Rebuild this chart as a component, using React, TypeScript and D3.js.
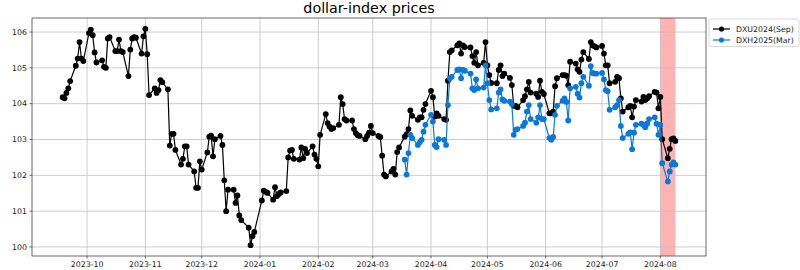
import React from 'react';
import * as d3 from 'd3';

// ---------------- data ----------------
const chartTitle = 'dollar-index prices';
const seriesNames = ['DXU2024(Sep)', 'DXH2025(Mar)'];
const firstDay = '2023-09-18';
const lastDay = '2024-08-09';
const holidays = ['2023-12-25', '2024-01-01'];
const secondSeriesFirstDay = '2024-03-18';
const spanStart = '2024-08-01';
const spanEnd = '2024-08-09';
const yTickValues = [100, 101, 102, 103, 104, 105, 106];
const xTickMonths = [
  '2023-10-01', '2023-11-01', '2023-12-01', '2024-01-01', '2024-02-01', '2024-03-01',
  '2024-04-01', '2024-05-01', '2024-06-01', '2024-07-01', '2024-08-01',
];

// DXU2024 (Sep) - one value per trading day, week by week
const dxu2024 = [
  104.18, 104.15, 104.30, 104.43, 104.63,
  105.06, 105.26, 105.72, 105.26, 105.19,
  105.97, 106.07, 105.91, 105.43, 105.15,
  105.21, 105.03, 105.00, 105.82, 105.86,
  105.47, 105.47, 105.79, 105.47, 105.44,
  104.77, 105.51, 105.82, 105.86, 105.84,
  105.40, 105.88, 106.09, 105.38, 104.24,
  104.43, 104.30, 104.38, 104.66, 104.60,
  104.40, 102.83, 103.16, 103.16, 102.71,
  102.30, 102.46, 102.81, 102.81, 102.30,
  102.11, 101.65, 101.65, 102.39, 102.16,
  102.64, 103.08, 103.11, 102.53, 103.01,
  103.10, 102.85, 101.86, 101.00, 101.60,
  101.60, 101.23, 101.44, 100.88, 100.75,
  100.54, 100.05, 100.30, 100.42,
  101.30, 101.57, 101.54, 101.51,
  101.32, 101.67, 101.42, 101.48, 101.52,
  101.56, 102.50, 102.69, 102.71, 102.46,
  102.44, 102.78, 102.48, 102.74, 102.62,
  102.81, 102.58, 102.46, 102.25, 103.13,
  103.71, 103.46, 103.36, 103.29, 103.32,
  103.41, 104.18, 103.99, 103.57, 103.53,
  103.53, 103.29, 103.18, 103.12, 103.10,
  103.01, 103.10, 103.19, 103.38, 103.18,
  103.10, 103.07, 102.55, 102.02, 101.97,
  102.11, 102.18, 102.02, 102.65, 102.78,
  103.08, 103.15, 103.29, 103.81, 103.66,
  103.55, 103.62, 103.62, 103.83, 103.99,
  104.36, 104.18, 103.64, 103.73, 103.66,
  103.57, 103.55, 104.64, 105.44, 105.49,
  105.63, 105.68, 105.40, 105.63, 105.58,
  105.57, 105.33, 105.14, 105.44, 105.07,
  105.14, 105.72, 105.07, 104.80, 104.58,
  104.57, 104.94, 105.07, 104.77, 104.84,
  104.72, 104.52, 103.94, 103.94, 103.90,
  104.10, 104.21, 104.40, 104.61, 104.31,
  104.28, 104.19, 104.64, 104.33, 104.27,
  103.73, 103.73, 103.78, 104.49, 104.71,
  104.80, 104.80, 104.78, 104.52, 105.17,
  105.12, 104.96, 104.89, 105.23, 105.44,
  105.25, 105.72, 105.63, 105.60, 105.57,
  105.61, 105.40, 105.07, 105.07, 104.57,
  104.61, 104.75, 104.71, 104.15, 103.78,
  103.90, 103.94, 103.62, 103.92, 104.10,
  104.06, 104.19, 104.10, 104.15, 104.21,
  104.33, 104.31, 103.87, 104.19, 103.01,
  102.48, 102.74, 103.01, 103.03, 102.96,
];

// DXH2025 (Mar) - from 2024-03-18
const dxh2025 = [
  102.44, 102.02, 102.62, 103.13, 103.04,
  102.85, 102.92, 102.99, 103.22, 103.41,
  103.69, 103.50, 102.85, 102.79, 103.01,
  102.99, 102.85, 103.96, 104.71, 104.75,
  104.94, 104.96, 104.71, 104.94, 104.92,
  104.84, 104.43, 104.38, 104.68, 104.43,
  104.45, 105.07, 104.57, 104.10, 103.84,
  103.87, 104.31, 104.40, 104.12, 104.08,
  104.06, 103.99, 103.13, 103.27, 103.29,
  103.38, 103.47, 103.78, 103.96, 103.57,
  103.47, 103.62, 103.96, 103.57, 103.57,
  103.04, 102.99, 103.07, 103.69, 103.94,
  104.08, 104.15, 104.05, 103.53, 104.43,
  104.47, 104.28, 104.17, 104.57, 104.75,
  104.50, 105.05, 104.86, 104.84, 104.84,
  104.86, 104.68, 104.38, 104.35, 103.83,
  103.90, 103.96, 104.10, 103.38, 103.04,
  103.16, 103.20, 102.73, 103.19, 103.41,
  103.44, 103.41, 103.34, 103.44, 103.57,
  103.62, 103.44, 103.13, 103.41, 102.34,
  101.83, 102.11, 102.30, 102.36, 102.30,
];

const seriesColors = ['#000000', '#0a78d6'];

// ---------------- chart ----------------
const W = 800;
const H = 270;
const plot = { left: 32, right: 706, top: 18, bottom: 256 };
const font = 'DejaVu Sans, sans-serif';

const parse = d3.utcParse('%Y-%m-%d');
const fmtDay = d3.utcFormat('%Y-%m-%d');

function tradingDays(): Date[] {
  const start = parse(firstDay) as Date;
  const end = parse(lastDay) as Date;
  return d3.utcDay
    .range(start, d3.utcDay.offset(end, 1))
    .filter((d) => d.getUTCDay() !== 0 && d.getUTCDay() !== 6 && !holidays.includes(fmtDay(d)));
}

export default function App() {
  const days = tradingDays();
  const s2Start = parse(secondSeriesFirstDay) as Date;
  const days2 = days.filter((d) => d >= s2Start);

  const s1 = days.slice(0, dxu2024.length).map((d, i) => ({ d, v: dxu2024[i] }));
  const s2 = days2.slice(0, dxh2025.length).map((d, i) => ({ d, v: dxh2025[i] }));
  const series = [s1, s2];

  const t0 = +days[0];
  const t1 = +days[days.length - 1];
  const tp = (t1 - t0) * 0.05;
  const x = d3.scaleUtc().domain([new Date(t0 - tp), new Date(t1 + tp)]).range([plot.left, plot.right]);

  const allV = [...dxu2024, ...dxh2025];
  const vmin = d3.min(allV) as number;
  const vmax = d3.max(allV) as number;
  const vp = (vmax - vmin) * 0.05;
  const y = d3.scaleLinear().domain([vmin - vp, vmax + vp]).range([plot.bottom, plot.top]);

  const line = d3
    .line<{ d: Date; v: number }>()
    .x((p) => x(p.d))
    .y((p) => y(p.v));

  const xTicks = xTickMonths.map((m) => parse(m) as Date);
  const fmtMonth = d3.utcFormat('%Y-%m');

  const spanX0 = x(parse(spanStart) as Date);
  const spanX1 = x(parse(spanEnd) as Date);

  const legX = 709;
  const legY = 19;

  return (
    <svg
      width={W}
      height={H}
      style={{ position: 'absolute', left: 0, top: 0, background: '#fff' }}
      fontFamily={font}
    >
      <rect x={0} y={0} width={W} height={H} fill="#fff" />
      {/* title */}
      <text x={(plot.left + plot.right) / 2} y={12.7} textAnchor="middle" fontSize={14.3} fill="#000">
        {chartTitle}
      </text>

      {/* highlighted span */}
      <rect
        x={spanX0}
        y={plot.top}
        width={spanX1 - spanX0}
        height={plot.bottom - plot.top}
        fill="#ff0000"
        fillOpacity={0.3}
      />

      {/* grid */}
      {xTicks.map((t, i) => (
        <line key={'gx' + i} x1={x(t)} x2={x(t)} y1={plot.top} y2={plot.bottom} stroke="#c0c0c0" strokeWidth={0.8} />
      ))}
      {yTickValues.map((v, i) => (
        <line key={'gy' + i} x1={plot.left} x2={plot.right} y1={y(v)} y2={y(v)} stroke="#c0c0c0" strokeWidth={0.8} />
      ))}

      {/* series */}
      {series.map((s, k) => (
        <g key={'s' + k}>
          <path d={line(s) || ''} fill="none" stroke={seriesColors[k]} strokeWidth={1.2} />
          {s.map((p, i) => (
            <circle key={i} cx={x(p.d)} cy={y(p.v)} r={2.9} fill={seriesColors[k]} />
          ))}
        </g>
      ))}

      {/* spines */}
      <rect
        x={plot.left}
        y={plot.top}
        width={plot.right - plot.left}
        height={plot.bottom - plot.top}
        fill="none"
        stroke="#444"
        strokeWidth={0.8}
      />

      {/* x ticks */}
      {xTicks.map((t, i) => (
        <g key={'xt' + i}>
          <line x1={x(t)} x2={x(t)} y1={plot.bottom} y2={plot.bottom + 2.5} stroke="#444" strokeWidth={0.8} />
          <text x={x(t)} y={plot.bottom + 11} textAnchor="middle" fontSize={7.8} fill="#222">
            {fmtMonth(t)}
          </text>
        </g>
      ))}

      {/* y ticks */}
      {yTickValues.map((v, i) => (
        <g key={'yt' + i}>
          <line x1={plot.left - 2.5} x2={plot.left} y1={y(v)} y2={y(v)} stroke="#444" strokeWidth={0.8} />
          <text x={plot.left - 5} y={y(v) + 2.8} textAnchor="end" fontSize={7.8} fill="#222">
            {v}
          </text>
        </g>
      ))}

      {/* legend */}
      <rect x={legX} y={legY} width={W - legX - 1} height={27.5} rx={2} fill="#fff" stroke="#d0d0d0" strokeWidth={0.8} />
      {seriesNames.map((n, k) => {
        const ry = legY + 10 + k * 11;
        return (
          <g key={'lg' + k}>
            <line x1={legX + 4} x2={legX + 21} y1={ry} y2={ry} stroke={seriesColors[k]} strokeWidth={1.2} />
            <circle cx={legX + 12.5} cy={ry} r={2.6} fill={seriesColors[k]} />
            <text x={legX + 27} y={ry + 2.9} fontSize={7.8} fill="#222">
              {n}
            </text>
          </g>
        );
      })}
    </svg>
  );
}
